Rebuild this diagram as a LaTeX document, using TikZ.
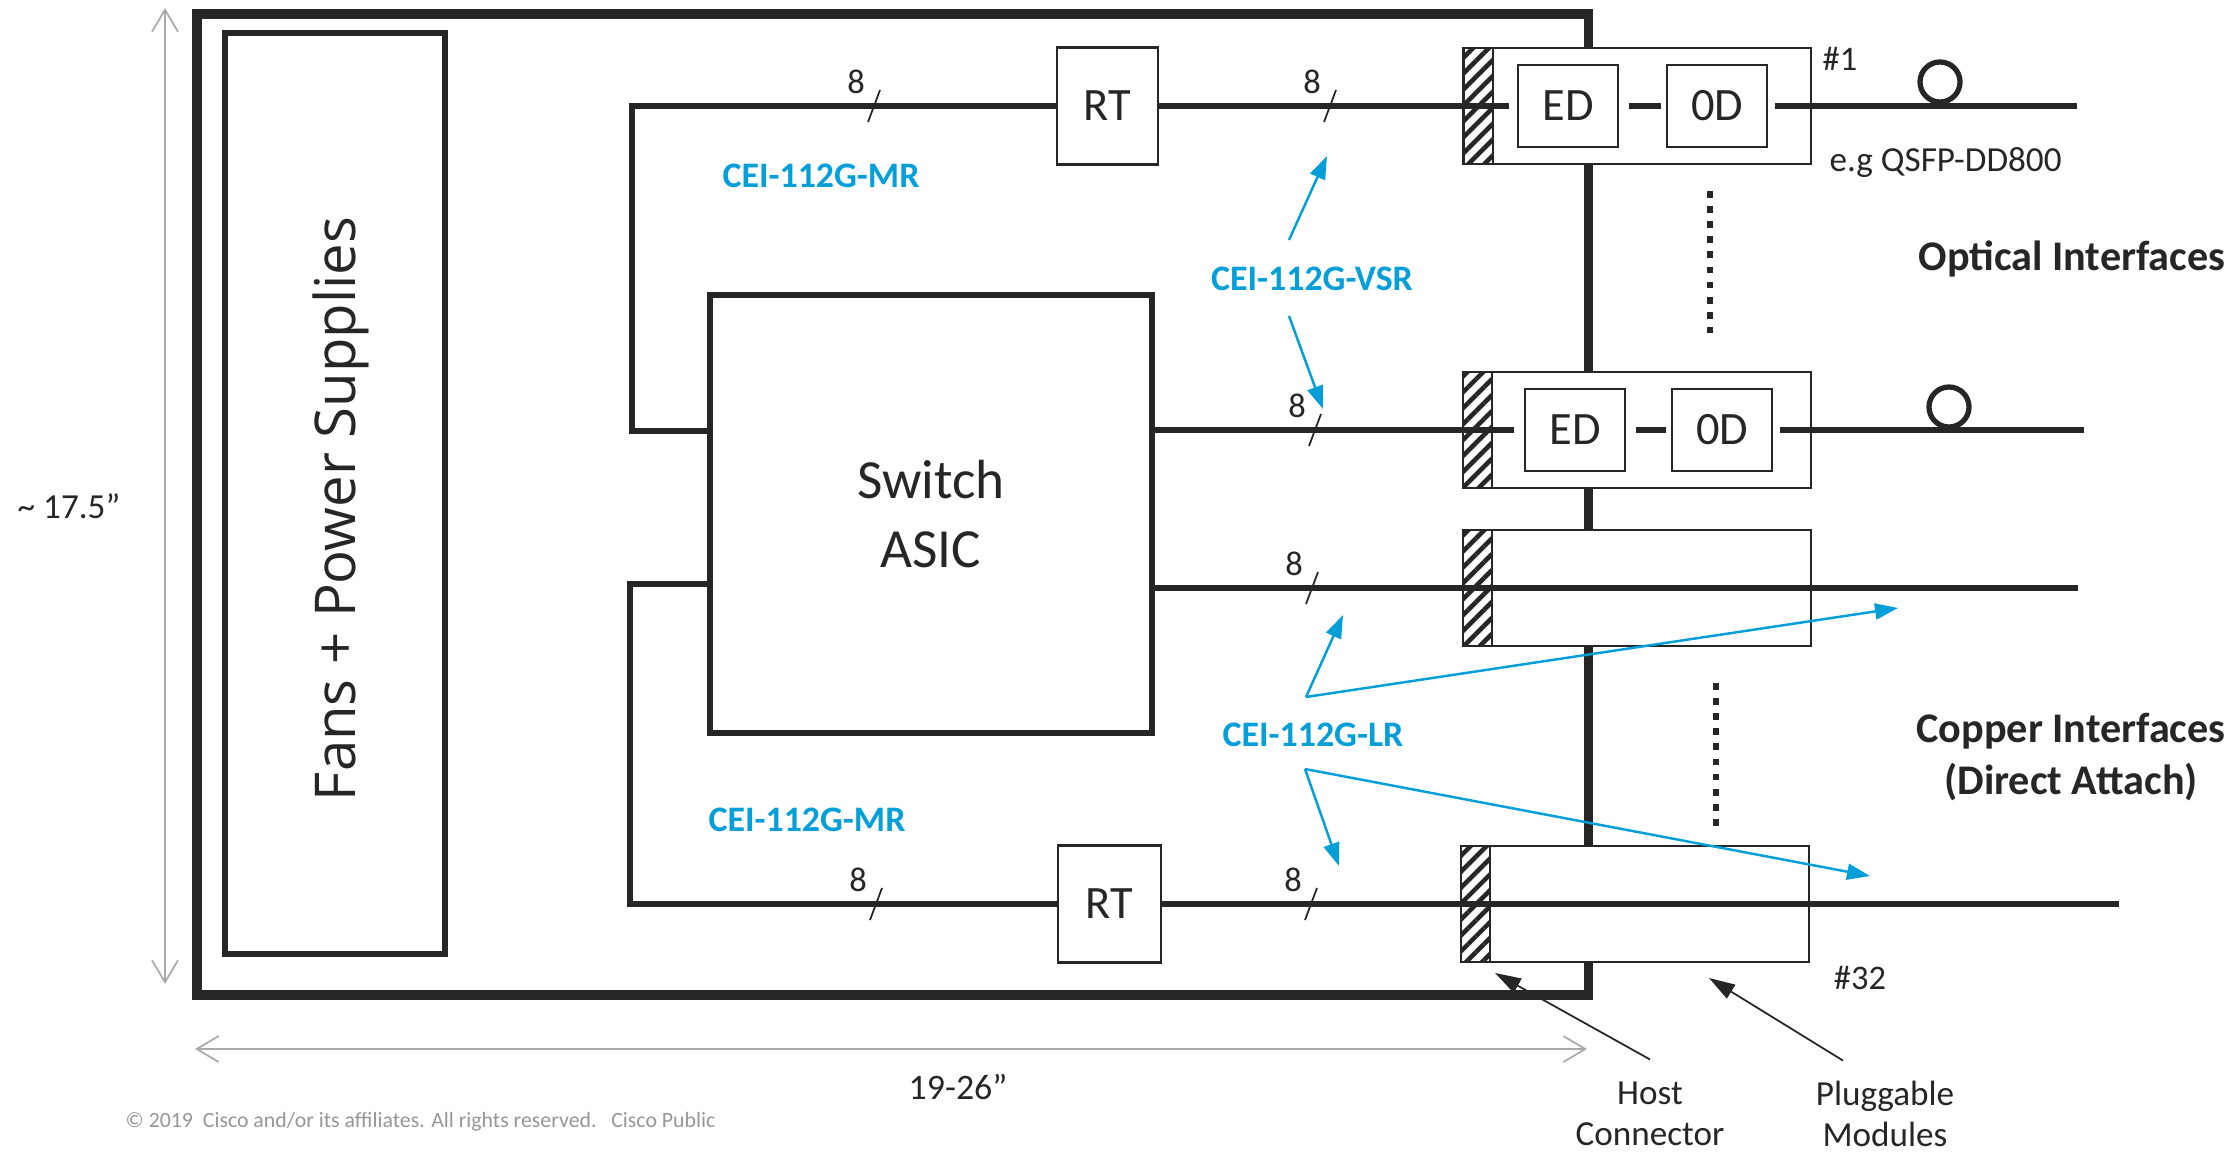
\documentclass[tikz,border=0pt]{standalone}
\usepackage{fontspec}
\setmainfont{Carlito}
\newfontfamily\fansfont{Open Sans}
\usepackage{xcolor}
\usetikzlibrary{arrows.meta, positioning, patterns.meta}
\definecolor{ink}{RGB}{38,38,38}
\definecolor{ceiblue}{RGB}{4,159,217}
\definecolor{dimgray}{RGB}{170,170,170}
\definecolor{notegray}{RGB}{150,150,150}
\newcommand{\fsz}[2]{\fontsize{#1}{#2}\selectfont}

\begin{document}
\begin{tikzpicture}[x=0.01cm, y=-0.01cm,
   txt/.style={text=ink, inner sep=0pt},
   box/.style={draw=ink, line width=1.6pt, inner sep=0pt, text=ink},
   lightbox/.style={draw=ink, line width=0.6pt, fill=white, inner sep=0pt,
                    text=ink, font=\fsz{13.2}{15}},
   module/.style={lightbox, minimum width=3.48cm, minimum height=1.16cm},
   dev/.style={lightbox, minimum width=1.0cm, minimum height=0.82cm},
   hatch/.style={draw=ink, line width=0.6pt, inner sep=0pt,
                 minimum width=0.29cm, minimum height=1.16cm,
                 pattern={Lines[angle=45, distance=3.2pt, line width=1.3pt]},
                 pattern color=ink},
   fiber/.style={circle, draw=ink, line width=1.5pt, minimum size=0.40cm, inner sep=0pt},
   sig/.style={ink, line width=1.6pt},
   tick/.style={ink, line width=0.5pt},
   cnt/.style={txt, font=\fsz{9.8}{12}},
   cei/.style={text=ceiblue, inner sep=0pt, font=\fsz{10.2}{12}\bfseries},
   blu/.style={ceiblue, line width=0.7pt, -{Triangle[length=2.3mm, width=1.6mm]}},
   ann/.style={ink, line width=0.5pt, -{Triangle[length=2.6mm, width=1.6mm]}},
   dim/.style={dimgray, line width=0.5pt,
               {Straight Barb[length=2.2mm, width=2.6mm]}-{Straight Barb[length=2.2mm, width=2.6mm]}},
   dots/.style={ink, line width=1.9pt, dash pattern=on 1.9pt off 2.4pt}]

  \useasboundingbox (0,0) rectangle (2240,1155);

  % chassis, fans, asic
  \node[draw=ink, line width=2.8pt, minimum width=13.91cm, minimum height=9.81cm,
        inner sep=0pt] (chassis) at (892.5,504.5) {};
  \node[box, minimum width=2.20cm, minimum height=9.21cm] (fans) at (335,493.5) {};
  \node[txt, rotate=90, font=\fansfont\fsz{16}{19}] (fanstxt) at (341,509) {Fans + Power Supplies};
  \node[box, minimum width=4.42cm, minimum height=4.38cm, align=center,
        font=\fsz{15.7}{19.4}] (asic) at (931,514) {Switch\\ASIC};

  \node[lightbox, minimum width=1.01cm, minimum height=1.17cm] (rt1) at (1107.5,106) {RT};
  \node[lightbox, minimum width=1.03cm, minimum height=1.17cm] (rt2) at (1109.5,904) {RT};

  % pluggable modules
  \node[module] (mod1) at (1637,106) {};
  \node[module] (mod2) at (1637,430) {};
  \node[module] (mod3) at (1637,588) {};
  \node[module] (mod4) at (1635,904) {};
  \node[hatch, anchor=west] (hc1) at (mod1.west) {};
  \node[hatch, anchor=west] (hc2) at (mod2.west) {};
  \node[hatch, anchor=west] (hc3) at (mod3.west) {};
  \node[hatch, anchor=west] (hc4) at (mod4.west) {};

  \node[dev, right=0.55cm of mod1.west] (ed1) {ED};
  \node[dev, right=0.47cm of ed1] (od1) {0D};
  \node[dev, right=0.62cm of mod2.west] (ed2) {ED};
  \node[dev, right=0.45cm of ed2] (od2) {0D};

  \coordinate (out1) at (2077,106);
  \coordinate (out2) at (2084,430);
  \coordinate (out3) at (2078,588);
  \coordinate (out4) at (2119,904);

  % lanes
  \draw[sig] ([yshift=0.83cm]asic.west) -- ++(-75,0) |- (rt1.west);
  \draw[sig] ([yshift=-0.70cm]asic.west) -- ++(-77,0) |- (rt2.west);
  \draw[sig, shorten >=0.08cm] (rt1.east) -- (ed1.west);
  \draw[sig, shorten <=0.1cm, shorten >=0.05cm] (ed1.east) -- (od1.west);
  \draw[sig, shorten <=0.07cm] (od1.east) -- (out1);
  \draw[sig, shorten >=0.1cm] (asic.east |- ed2.west) -- (ed2.west);
  \draw[sig, shorten <=0.1cm, shorten >=0.05cm] (ed2.east) -- (od2.west);
  \draw[sig, shorten <=0.07cm] (od2.east) -- (out2);
  \draw[sig] (asic.east |- out3) -- (out3);
  \draw[sig] (rt2.east) -- (out4);

  \node[fiber] (lp1) at (1940,82) {};
  \node[fiber] (lp2) at (1949,407) {};

  \foreach \n/\x/\y in {w1/874/106, w2/1330/106, w3/1315/430,
                        w4/1312/588, w5/876/904, w6/1311/904}{
    \draw[tick] (\x+6,\y-16) -- (\x-6,\y+16);
    \node[cnt] (\n) at (\x-18,\y-24) {8};
  }

  \coordinate (dt1) at (1710,191);
  \coordinate (db1) at (1710,333);
  \coordinate (dt2) at (1716,683);
  \coordinate (db2) at (1716,826);
  \draw[dots] (dt1) -- (db1);
  \draw[dots] (dt2) -- (db2);

  % electrical interface labels
  \node[cei] (mr1) at (821,176) {CEI-112G-MR};
  \node[cei] (vsr) at (1312,279) {CEI-112G-VSR};
  \node[cei] (lr) at (1313,735) {CEI-112G-LR};
  \node[cei] (mr2) at (807,820) {CEI-112G-MR};

  \coordinate (v0) at (1289,240);
  \coordinate (v1) at (1327,156);
  \coordinate (v2) at (1289,316);
  \coordinate (v3) at (1323,409);
  \coordinate (l0) at (1306,697);
  \coordinate (l1) at (1343,615);
  \coordinate (l2) at (1898,608);
  \coordinate (l3) at (1305,769);
  \coordinate (l4) at (1339,866);
  \coordinate (l5) at (1870,876);
  \draw[blu] (v0) -- (v1);
  \draw[blu] (v2) -- (v3);
  \draw[blu] (l0) -- (l1);
  \draw[blu] (l0) -- (l2);
  \draw[blu] (l3) -- (l4);
  \draw[blu] (l3) -- (l5);

  % right side text
  \node[txt, font=\fsz{9.8}{12}] (n1) at (1840,59) {\#1};
  \node[txt, font=\fsz{10}{12}, anchor=base west] (eg) at (1829,172) {e.g QSFP-DD800};
  \node[txt, font=\fsz{12}{15}\bfseries] (optl) at (2072,259) {Optical Interfaces};
  \node[txt, font=\fsz{12}{15}\bfseries, align=center] (copl) at (2071,757)
       {Copper Interfaces\\(Direct Attach)};
  \node[txt, font=\fsz{9.8}{12}] (n32) at (1860,978) {\#32};
  \node[txt, font=\fsz{10}{11.6}, align=center] (host) at (1650,1114) {Host\\Connector};
  \node[txt, font=\fsz{10}{11.6}, align=center] (plug) at (1885,1114) {Pluggable\\Modules};

  \coordinate (hostA) at (1495,973);
  \coordinate (plugA) at (1709,978);
  \draw[ann] ([yshift=0.22cm]host.north) -- (hostA);
  \draw[ann] ([xshift=-0.42cm, yshift=0.20cm]plug.north) -- (plugA);

  % dimensions
  \coordinate (dimT) at (165,8);
  \coordinate (dimB) at (165,984);
  \coordinate (dimL) at (195,1049);
  \coordinate (dimR) at (1587,1049);
  \draw[dim] (dimT) -- (dimB);
  \draw[dim] (dimL) -- (dimR);
  \node[txt, font=\fsz{10}{12}] (hgt) at (69,506) {\textasciitilde{} 17.5”};
  \node[txt, font=\fsz{10.2}{12}] (wid) at (958,1087) {19-26”};

  \node[text=notegray, inner sep=0pt, font=\fsz{6.2}{8}, anchor=west] (copy) at (125,1122)
       {© 2019\ \ Cisco and/or its affiliates. All rights reserved.\ \ \ Cisco Public};
\end{tikzpicture}
\end{document}
